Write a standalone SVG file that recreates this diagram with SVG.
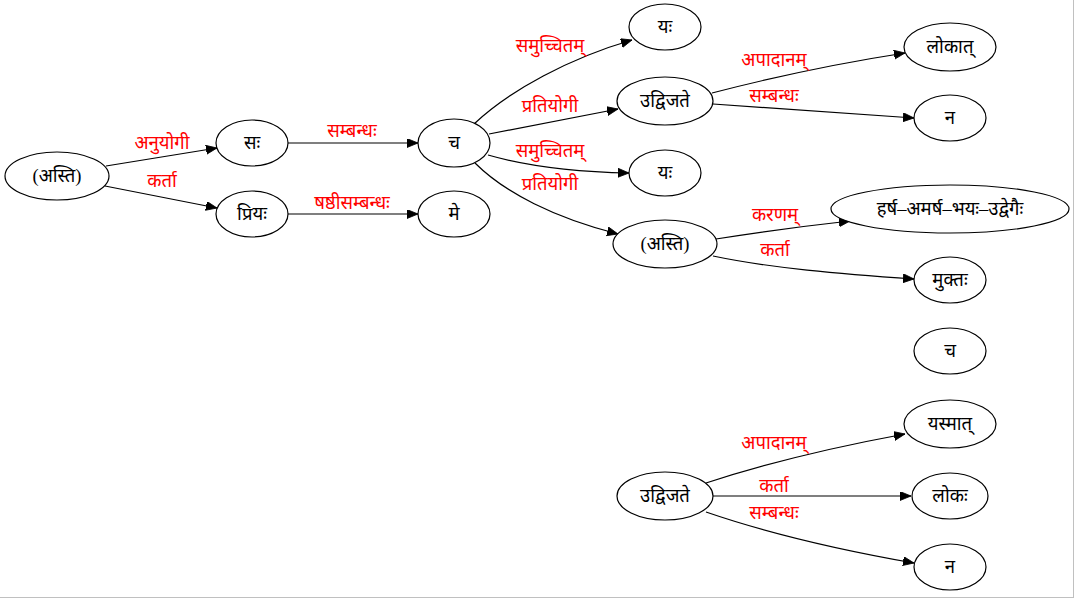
<svg xmlns="http://www.w3.org/2000/svg" width="1075" height="599" viewBox="0 0 1075 599">
  <style>
    .node ellipse { fill: #ffffff; stroke: #000000; stroke-width: 1.2; }
    .node text { font-family: "Liberation Serif", "Noto Sans", serif; font-size: 18.5px; fill: #000000; text-anchor: middle; dominant-baseline: central; }
    .edge path { fill: none; stroke: #000000; stroke-width: 1.2; marker-end: url(#arrow); }
    .edge text { font-family: "Liberation Serif", "Noto Sans", serif; font-size: 18.5px; fill: #ff0000; text-anchor: middle; dominant-baseline: central; }
  </style>
  <defs>
    <marker id="arrow" markerUnits="userSpaceOnUse" markerWidth="12" markerHeight="10" refX="11" refY="4.5" orient="auto">
      <path d="M0,0 L11,4.5 L0,9 Z" fill="#000000" stroke="#000000" stroke-width="0.8"/>
    </marker>
  </defs>
  <rect x="0" y="0" width="1075" height="599" fill="#ffffff"/>
  <!-- frame -->
  <line x1="1073.5" y1="0" x2="1073.5" y2="598" stroke="#c0c0c0" stroke-width="1"/>
  <line x1="0" y1="597.5" x2="1074" y2="597.5" stroke="#c0c0c0" stroke-width="1"/>

  <g id="connectors">
    <g class="edge"><path d="M106,166 L217,148"/><text x="162" y="143">अनुयोगी</text></g>
    <g class="edge"><path d="M105,186 L217,208"/><text x="162" y="181">कर्ता</text></g>
    <g class="edge"><path d="M288,143 L418,143"/><text x="352" y="131">सम्बन्धः</text></g>
    <g class="edge"><path d="M288,214 L418,214"/><text x="352" y="203">षष्ठीसम्बन्धः</text></g>
    <g class="edge"><path d="M474,124 C510,90 570,58 632,40"/><text x="550" y="46">समुच्चितम्</text></g>
    <g class="edge"><path d="M489,134 L618,109"/><text x="550" y="106">प्रतियोगी</text></g>
    <g class="edge"><path d="M488,155 C530,167 580,172 629,173"/><text x="550" y="151">समुच्चितम्</text></g>
    <g class="edge"><path d="M475,163 C505,193 555,218 618,234"/><text x="550" y="184">प्रतियोगी</text></g>
    <g class="edge"><path d="M712,93 C770,78 840,63 905,53"/><text x="774" y="60">अपादानम्</text></g>
    <g class="edge"><path d="M713,104 L914,118"/><text x="774" y="96">सम्बन्धः</text></g>
    <g class="edge"><path d="M716,239 C760,232 805,226 850,221"/><text x="775" y="215">करणम्</text></g>
    <g class="edge"><path d="M713,256 C770,268 840,274 914,279"/><text x="775" y="250">कर्ता</text></g>
    <g class="edge"><path d="M706,483 C770,462 840,446 905,434"/><text x="774" y="443">अपादानम्</text></g>
    <g class="edge"><path d="M713,496 L911,496"/><text x="774" y="486">कर्ता</text></g>
    <g class="edge"><path d="M706,512 C770,534 840,550 914,563"/><text x="774" y="513">सम्बन्धः</text></g>
  </g>

  <g id="n_asti1" class="node"><ellipse cx="57" cy="176" rx="52" ry="24"/><text x="57" y="176">(अस्ति)</text></g>
  <g id="n_sah" class="node"><ellipse cx="252" cy="143" rx="36" ry="23"/><text x="252" y="143">सः</text></g>
  <g id="n_priyah" class="node"><ellipse cx="252" cy="214" rx="36" ry="23"/><text x="252" y="214">प्रियः</text></g>
  <g id="n_ca1" class="node"><ellipse cx="454" cy="143" rx="36" ry="24"/><text x="454" y="143">च</text></g>
  <g id="n_me" class="node"><ellipse cx="454" cy="214" rx="36" ry="23"/><text x="454" y="214">मे</text></g>
  <g id="n_yah1" class="node"><ellipse cx="665" cy="27" rx="36" ry="23"/><text x="665" y="27">यः</text></g>
  <g id="n_udvijate1" class="node"><ellipse cx="665" cy="101" rx="48" ry="24"/><text x="665" y="101">उद्विजते</text></g>
  <g id="n_yah2" class="node"><ellipse cx="665" cy="173" rx="36" ry="23"/><text x="665" y="173">यः</text></g>
  <g id="n_asti2" class="node"><ellipse cx="665" cy="244" rx="52" ry="24"/><text x="665" y="244">(अस्ति)</text></g>
  <g id="n_lokat" class="node"><ellipse cx="950" cy="47" rx="46" ry="24"/><text x="950" y="47">लोकात्</text></g>
  <g id="n_na1" class="node"><ellipse cx="950" cy="118" rx="36" ry="23"/><text x="950" y="118">न</text></g>
  <g id="n_harsha" class="node"><ellipse cx="950" cy="209" rx="119" ry="24"/><text x="950" y="209">हर्ष–अमर्ष–भयः–उद्वेगैः</text></g>
  <g id="n_muktah" class="node"><ellipse cx="950" cy="280" rx="36" ry="23"/><text x="950" y="280">मुक्तः</text></g>
  <g id="n_ca2" class="node"><ellipse cx="950" cy="351" rx="36" ry="23"/><text x="950" y="351">च</text></g>
  <g id="n_yasmat" class="node"><ellipse cx="950" cy="424" rx="46" ry="24"/><text x="950" y="424">यस्मात्</text></g>
  <g id="n_lokah" class="node"><ellipse cx="950" cy="496" rx="38" ry="23"/><text x="950" y="496">लोकः</text></g>
  <g id="n_na2" class="node"><ellipse cx="950" cy="567" rx="36" ry="23"/><text x="950" y="567">न</text></g>
  <g id="n_udvijate2" class="node"><ellipse cx="665" cy="496" rx="48" ry="24"/><text x="665" y="496">उद्विजते</text></g>
</svg>
